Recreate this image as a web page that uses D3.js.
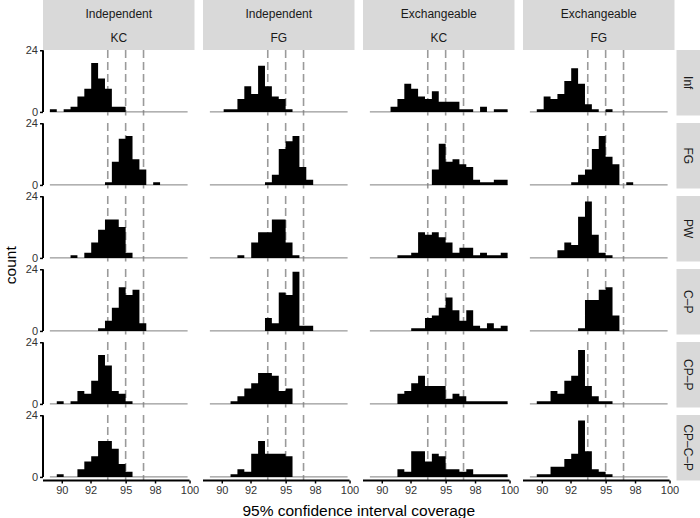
<!DOCTYPE html>
<html><head><meta charset="utf-8">
<script src="https://cdn.jsdelivr.net/npm/d3@7"></script>
<style>
body{margin:0;background:#fff}
svg{display:block}
text{font-family:"Liberation Sans",Arial,Helvetica,sans-serif}
</style>
</head><body><svg id="c" width="700" height="518"></svg>
<script>
// ---- data ----
const colCorr = ["Independent","Independent","Exchangeable","Exchangeable"];
const colMethod = ["KC","FG","KC","FG"];
const rowLabels = ["Inf","FG","PW","C–P","CP–P","CP–C–P"];
const binStart = 89.07, binWidth = 0.539, nBins = 20;
const refLines = [93.6, 95, 96.4];
const xTicks = [90, 92.25, 95, 97.3, 100];
const xTickLabels = ["90","92","95","98","100"];
const yTicks = [0, 24];
// counts per bin, one array per column (Ind KC, Ind FG, Exch KC, Exch FG)
const countsInf = [
  [1,0,1,2,6,9,19,13,9,2,2,0,0,0,0,0,0,0,0,0],
  [0,0,1,1,5,10,7,18,10,6,5,1,0,0,0,0,0,0,0,0],
  [0,0,0,2,5,11,9,6,5,8,4,4,4,1,1,0,2,0,1,1],
  [0,1,6,5,7,12,17,11,3,1,0,1,0,0,0,0,0,0,0,0]];
const countsFG = [
  [0,0,0,0,0,0,0,0,1,9,18,19,10,6,0,1,0,0,0,0],
  [0,0,0,0,0,0,0,0,1,4,14,17,19,7,2,0,0,0,0,0],
  [0,0,0,0,0,0,0,0,0,6,16,9,10,8,7,2,1,1,2,2],
  [0,0,0,0,0,0,1,4,6,14,19,11,8,0,1,0,0,0,0,0]];
const countsPW = [
  [0,0,0,1,0,2,6,11,15,15,12,2,0,0,0,0,0,0,0,0],
  [0,0,0,0,1,0,6,10,10,15,15,6,1,0,0,0,0,0,0,0],
  [0,0,0,0,1,1,2,10,9,10,8,6,2,4,4,1,2,1,1,2],
  [0,0,0,0,3,6,5,16,22,9,2,1,0,0,0,0,0,0,0,0]];
const countsCP = [
  [0,0,0,0,0,0,0,1,4,9,17,14,16,3,0,0,0,0,0,0],
  [0,0,0,0,0,0,0,0,5,3,15,14,23,2,2,0,0,0,0,0],
  [0,0,0,0,0,0,1,1,5,6,9,13,8,4,8,2,1,3,1,2],
  [0,0,0,0,0,0,0,1,12,12,16,17,6,0,0,0,0,0,0,0]];
const countsCPP = [
  [0,1,0,1,5,4,9,19,15,5,4,1,0,0,0,0,0,0,0,0],
  [0,0,0,1,3,6,8,12,12,11,5,6,0,0,0,0,0,0,0,0],
  [0,0,0,0,4,5,8,11,7,7,7,2,4,3,1,1,1,1,1,1],
  [0,1,1,5,4,9,11,21,7,3,1,1,0,0,0,0,0,0,0,0]];
const countsCPCP = [
  [0,1,0,0,3,6,8,14,14,11,5,2,0,0,0,0,0,0,0,0],
  [0,0,0,1,3,2,9,14,9,9,9,8,0,0,0,0,0,0,0,0],
  [0,0,0,0,3,2,10,10,6,9,8,3,3,2,3,1,1,1,1,1],
  [0,1,1,4,4,7,9,22,10,3,2,1,0,0,0,0,0,0,0,0]];
const allCounts = [countsInf, countsFG, countsPW, countsCP, countsCPP, countsCPCP];

// ---- layout ----
const svg = d3.select("#c");
const panelW = 151.5, panelH = 65.5, colGap = 8.5, rowGap = 7.5;
const left0 = 43, top0 = 50;
const binEnd = binStart + nBins*binWidth;
const R = binEnd - binStart;
const x = d3.scaleLinear().domain([binStart-0.05*R, binEnd+0.05*R]).range([0, panelW]);
const y = d3.scaleLinear().domain([-1.4, 24.1]).range([panelH, 0]);
const edges = d3.range(nBins+1).map(i => binStart + i*binWidth);
const font = '"Liberation Sans",Arial,Helvetica,sans-serif';
const stripFill = "#d9d9d9";

const histArea = d3.area().curve(d3.curveStepAfter)
  .x(d => x(d.e)).y0(y(0)).y1(d => y(d.c));

// top strips
colCorr.forEach((c, j) => {
  const px = left0 + j*(panelW+colGap);
  svg.append("rect").attr("x", px).attr("y", 0).attr("width", panelW).attr("height", top0)
    .attr("fill", stripFill);
  svg.append("text").attr("x", px+panelW/2).attr("y", 14).attr("text-anchor","middle")
    .attr("dominant-baseline","central").attr("font-size", 12).attr("fill","#1a1a1a").text(c);
  svg.append("text").attr("x", px+panelW/2).attr("y", 38).attr("text-anchor","middle")
    .attr("dominant-baseline","central").attr("font-size", 12).attr("fill","#1a1a1a").text(colMethod[j]);
});

rowLabels.forEach((lab, r) => {
  const py = top0 + r*(panelH+rowGap);
  const sx = left0 + 4*panelW + 3*colGap + 2;
  svg.append("rect").attr("x", sx).attr("y", py).attr("width", 700-sx).attr("height", panelH)
    .attr("fill", stripFill);
  svg.append("text").attr("transform", `translate(${sx+(700-sx)/2},${py+panelH/2}) rotate(90)`)
    .attr("text-anchor","middle").attr("dominant-baseline","central")
    .attr("font-size",12).attr("fill","#1a1a1a").text(lab);

  for (let j = 0; j < 4; j++) {
    const px = left0 + j*(panelW+colGap);
    const g = svg.append("g").attr("transform", `translate(${px},${py})`);
    const counts = allCounts[r][j];
    // reference lines (behind bars)
    g.selectAll("line.ref").data(refLines).enter().append("line").attr("class","ref")
      .attr("x1", d=>x(d)).attr("x2", d=>x(d)).attr("y1", 0).attr("y2", panelH)
      .attr("stroke","#9a9a9a").attr("stroke-width",1.6).attr("stroke-dasharray","8,4");
    // baseline
    g.append("line").attr("x1", x(edges[0])).attr("x2", x(edges[nBins]))
      .attr("y1", y(0)).attr("y2", y(0)).attr("stroke","#7f7f7f").attr("stroke-width",1);
    // histogram bars as one stepped shape
    const pts = counts.map((c,i)=>({e: edges[i], c}));
    pts.push({e: edges[nBins], c: counts[nBins-1]});
    g.append("path").attr("d", histArea(pts)).attr("fill","#000");

    if (j === 0) {
      const ax = g.append("g").call(d3.axisLeft(y).tickValues(yTicks).tickSize(3).tickPadding(2));
      ax.select(".domain").remove();
      ax.append("line").attr("x1",0).attr("x2",0).attr("y1",y(0)).attr("y2",y(24))
        .attr("stroke","#000").attr("stroke-width",2);
      ax.selectAll(".tick line").attr("stroke","#000").attr("stroke-width",1.5);
      ax.selectAll(".tick text").attr("font-size",11).attr("fill","#333").attr("font-family",font);
    }
    if (r === 5) {
      const ax = g.append("g").attr("transform",`translate(0,${panelH})`)
        .call(d3.axisBottom(x).tickValues(xTicks).tickFormat((d,i)=>xTickLabels[i]).tickSize(3).tickPadding(3));
      ax.select(".domain").remove();
      ax.append("line").attr("x1",0).attr("x2",x(100)).attr("y1",0).attr("y2",0)
        .attr("stroke","#000").attr("stroke-width",2);
      ax.selectAll(".tick line").attr("stroke","#000").attr("stroke-width",1.5);
      ax.selectAll(".tick text").attr("font-size",11).attr("fill","#333").attr("font-family",font);
    }
  }
});

// axis titles
const plotMidX = left0 + (4*panelW + 3*colGap)/2;
svg.append("text").attr("x", plotMidX).attr("y", 510).attr("text-anchor","middle")
  .attr("dominant-baseline","central").attr("font-size",15.5).attr("fill","#000")
  .text("95% confidence interval coverage");
const plotMidY = top0 + (6*panelH + 5*rowGap)/2;
svg.append("text").attr("transform",`translate(10,${plotMidY}) rotate(-90)`)
  .attr("text-anchor","middle").attr("dominant-baseline","central")
  .attr("font-size",15.5).attr("fill","#000").text("count");
</script>
</body></html>
